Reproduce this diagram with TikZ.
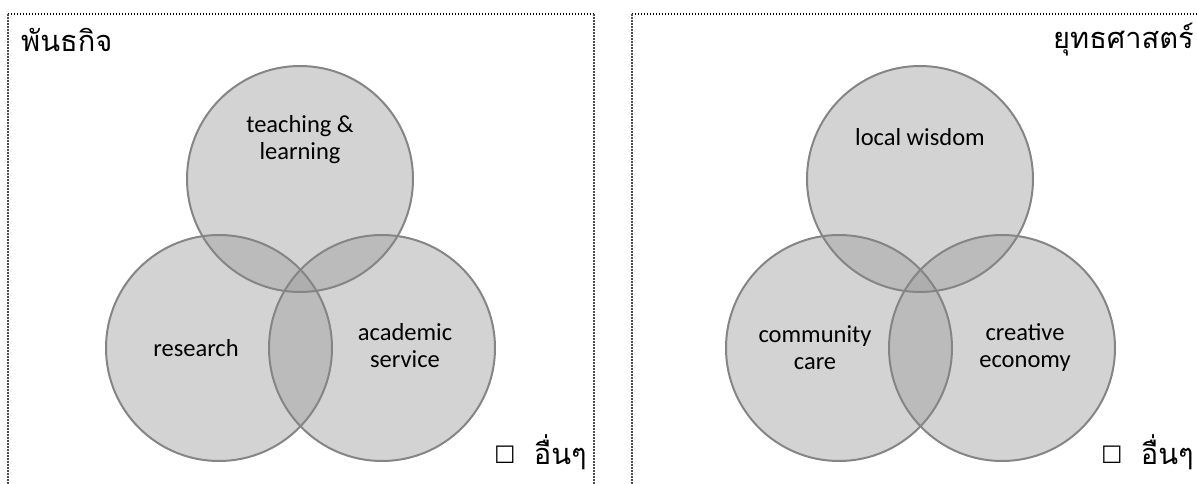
\documentclass[tikz,border=0pt]{standalone}
\usepackage{fontspec}
\setmainfont{Carlito}
\newfontfamily\thaifont[Script=Thai]{Loma}
\newfontfamily\symfont{DejaVu Sans}
\begin{document}
\begin{tikzpicture}[x=1pt,y=-1pt,
  vennfill/.style={circle,minimum size=226pt,inner sep=0pt,fill=vgray,fill opacity=0.45},
  ring/.style={draw=ringgray,line width=2pt},
  lbl/.style={font=\fontsize{24.5}{27}\selectfont,align=center,inner sep=0pt,text=black},
  thailbl/.style={font=\thaifont\fontsize{29}{32}\selectfont,inner sep=0pt},
  boxlbl/.style={font=\symfont\fontsize{24}{26}\selectfont,inner sep=0pt},
  topedge/.style={line width=1.2pt,dash pattern=on 1.2pt off 1.8pt,black},
  sideedge/.style={line width=2pt,dash pattern=on 2pt off 1pt,black!70}]
\definecolor{vgray}{gray}{0.62}
\definecolor{ringgray}{gray}{0.52}
\useasboundingbox (0,0) rectangle (1197,484);
% frames
\coordinate (l1) at (8,484); \coordinate (l2) at (8,14); \coordinate (l3) at (594,14); \coordinate (l4) at (594,484);
\coordinate (r1) at (632,484); \coordinate (r2) at (632,14); \coordinate (r3) at (1197,14);
\draw[topedge] (l2) -- (l3);
\draw[topedge] (r2) -- (r3);
\draw[sideedge] (l1) -- (l2);
\draw[sideedge] (l4) -- (l3);
\draw[sideedge] (r1) -- (r2);
% left venn
\node[vennfill] (lt) at (300,179) {};
\node[vennfill] (ll) at (219,348) {};
\node[vennfill] (lr) at (382,348) {};
\draw[ring] (lt.center) circle[radius=113pt];
\draw[ring] (ll.center) circle[radius=113pt];
\draw[ring] (lr.center) circle[radius=113pt];
% right venn
\node[vennfill] (rt) at (920,179) {};
\node[vennfill] (rl) at (839,348) {};
\node[vennfill] (rr) at (1002,348) {};
\draw[ring] (rt.center) circle[radius=113pt];
\draw[ring] (rl.center) circle[radius=113pt];
\draw[ring] (rr.center) circle[radius=113pt];
% labels
\node[lbl] (tl) at (300,140) {teaching \&\\learning};
\node[lbl] (rs) at (196,348) {research};
\node[lbl] (as) at (405,346) {academic\\service};
\node[lbl] (lw) at (920,137) {local wisdom};
\node[lbl] (cc) at (815,348) {community\\care};
\node[lbl] (ce) at (1025,348) {creative\\economy};
% thai texts
\node[thailbl,anchor=west] (pk) at (21,40) {พันธกิจ};
\node[thailbl,anchor=east] (ys) at (1194,40) {ยุทธศาสตร์};
\node[thailbl,anchor=east] (o1) at (587,452) {อื่นๆ};
\node[boxlbl,anchor=east] (b1) at ([xshift=-18pt,yshift=-3pt]o1.west) {☐};
\node[thailbl,anchor=east] (o2) at (1194,452) {อื่นๆ};
\node[boxlbl,anchor=east] (b2) at ([xshift=-18pt,yshift=-3pt]o2.west) {☐};
\end{tikzpicture}
\end{document}
